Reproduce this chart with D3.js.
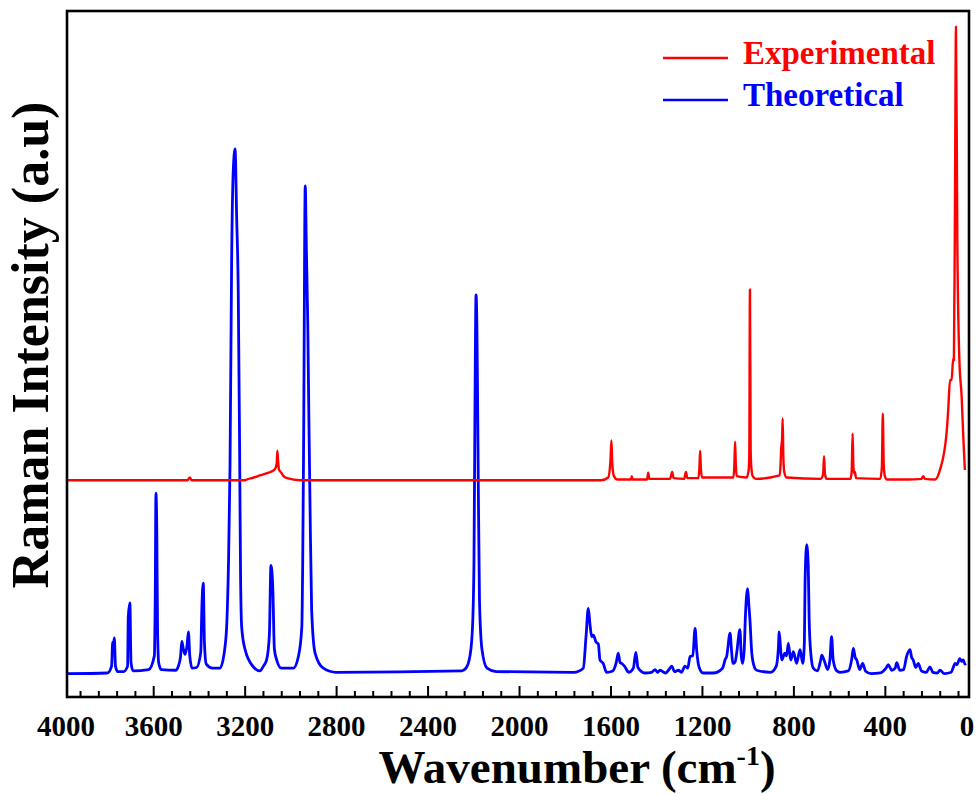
<!DOCTYPE html>
<html>
<head>
<meta charset="utf-8">
<script src="https://cdn.jsdelivr.net/npm/d3@7"></script>
<style>
  body { margin: 0; background: #fff; }
  svg text { font-family: "Liberation Serif", "Times New Roman", serif; font-weight: bold; }
</style>
</head>
<body>
<div id="chart"></div>
<script>
// Raman spectra, values (intensity in arbitrary units)
const seriesNames = ["Experimental", "Theoretical"];
const seriesColors = ["#ff0000", "#0000ff"];

const expWave = [3975, 3450, 3440, 3432, 3200, 3191, 3160, 3133, 3105, 3088, 3068, 3060, 3057, 3054, 3050, 3045, 3038, 3032, 3014, 2958,
  1640, 1610, 1600, 1596, 1592, 1585, 1570, 1510, 1507, 1503, 1440, 1435, 1430, 1340, 1330, 1324, 1278, 1270, 1264,
  1215, 1211, 1208, 1205, 1200, 1062, 1058, 1055, 1052, 1048, 1005, 996, 993, 990, 987, 984, 978, 965,
  860, 856, 854, 849, 847, 844, 840, 830, 680, 670, 666, 662, 655, 550, 545, 541, 538, 535, 531, 526,
  420, 413, 409, 405, 400, 390, 300, 240, 232, 225, 180, 159, 130, 123, 115, 108, 101, 98, 93, 89, 83, 74, 64, 57, 50];
const expInt = [31.6, 31.6, 32.0, 31.6, 31.6, 31.7, 32.0, 32.3, 32.6, 32.8, 33.2, 34.0, 35.9, 34.5, 33.2, 32.9, 32.6, 32.3, 31.9, 31.6,
  31.6, 32.0, 34.5, 37.4, 34.0, 32.2, 31.7, 31.7, 32.2, 31.7, 31.7, 32.7, 31.8, 31.8, 32.8, 31.9, 31.8, 32.8, 31.9,
  31.9, 33.5, 35.9, 33.5, 32.0, 32.0, 34.0, 37.2, 34.0, 32.2, 32.0, 33.0, 35.0, 59.4, 36.0, 33.5, 32.2, 31.8,
  32.3, 34.0, 35.8, 38.0, 40.6, 35.0, 32.8, 32.0, 31.8, 32.5, 35.1, 32.5, 31.8, 31.8, 33.0, 38.4, 34.0, 32.6, 32.8, 31.9,
  31.8, 33.5, 41.3, 34.0, 32.2, 31.7, 31.7, 31.8, 32.2, 31.8, 31.7, 33.1, 38.5, 41.8, 46.2, 46.2, 49.4, 49.1, 74.2, 97.7, 66.1, 49.1, 43.7, 37.9, 33.1];

const theoWave = [3975, 3800, 3782, 3777, 3774, 3770, 3765, 3755, 3730, 3712, 3709, 3702, 3697, 3688,
  3620, 3595, 3591, 3588, 3584, 3581, 3576, 3565, 3500, 3490, 3480, 3475, 3468, 3461, 3452, 3446, 3440, 3430,
  3410, 3392, 3387, 3381, 3376, 3368, 3340, 3308, 3286, 3278, 3271, 3264, 3257, 3250, 3242, 3235, 3228, 3222, 3218, 3213, 3198, 3162, 3133,
  3118, 3104, 3092, 3085, 3077, 3070, 3060, 3040, 2987, 2965, 2950, 2946, 2942, 2935, 2930, 2924, 2919, 2914, 2907, 2892, 2856, 2800,
  2250, 2232, 2214, 2203, 2197, 2193, 2188, 2184, 2179, 2173, 2162, 2140, 2100,
  1760, 1719, 1707, 1697, 1690, 1682, 1675, 1663, 1653, 1646, 1632, 1617, 1590, 1575, 1566, 1558, 1551, 1537, 1520, 1500, 1489, 1480,
  1450, 1420, 1405, 1395, 1383, 1360, 1340, 1332, 1320, 1303, 1290, 1274, 1262, 1252, 1240, 1230, 1223, 1212, 1195,
  1150, 1110, 1098, 1092, 1077, 1070, 1065, 1055, 1048, 1034, 1028, 1022, 1015, 1010, 1000, 995, 990, 982, 970, 961,
  900, 875, 866, 862, 856, 851, 837, 830, 822, 812, 800, 786, 771, 759, 752, 749, 742, 735, 731, 724, 713, 695,
  680, 676, 666, 650, 640, 633, 626, 610, 596, 560, 545, 538, 530, 523, 510, 497, 485, 460,
  420, 395, 385, 370, 355, 348, 335, 318, 305, 290, 283, 276, 265, 254, 240, 218, 203, 190, 170, 159, 140,
  110, 100, 93, 85, 72, 64, 57, 50, 45];
const theoInt = [3.4, 3.5, 4.5, 8.0, 7.5, 8.6, 4.5, 3.7, 3.7, 4.5, 11.7, 13.7, 5.0, 3.8,
  4.0, 6.0, 15.0, 29.7, 23.4, 10.0, 5.0, 4.0, 3.9, 4.5, 6.0, 8.1, 7.0, 6.2, 7.5, 9.5, 6.0, 4.2,
  4.3, 6.5, 13.2, 16.6, 8.0, 4.8, 4.2, 4.2, 7.3, 10.8, 19.0, 33.6, 63.5, 76.6, 79.9, 70.0, 59.1, 36.0, 18.0, 10.2, 6.9, 4.4, 3.8,
  4.5, 5.4, 9.0, 19.2, 16.0, 7.0, 5.4, 4.2, 4.2, 5.9, 10.2, 20.0, 37.5, 74.5, 65.2, 54.5, 40.4, 27.7, 12.7, 6.4, 4.2, 3.6,
  3.8, 4.2, 6.1, 10.5, 20.0, 40.4, 58.6, 53.5, 34.5, 14.1, 6.9, 4.2, 3.7,
  3.6, 4.2, 8.8, 12.9, 10.7, 8.8, 9.0, 8.0, 7.7, 5.4, 4.9, 3.6, 3.8, 5.0, 6.4, 5.0, 4.9, 4.4, 3.6, 4.2, 6.5, 4.3,
  3.5, 3.6, 4.0, 3.6, 3.9, 3.5, 4.2, 4.5, 3.7, 3.9, 3.6, 4.5, 4.2, 5.9, 6.0, 10.0, 6.8, 4.3, 3.5,
  3.5, 4.2, 5.5, 5.9, 9.3, 6.5, 4.9, 5.1, 6.4, 9.8, 6.0, 4.9, 7.0, 11.7, 15.8, 13.5, 11.2, 6.4, 4.3, 3.9,
  3.6, 4.5, 7.0, 9.5, 7.0, 5.4, 6.4, 6.0, 7.8, 5.4, 6.6, 4.9, 6.9, 4.9, 8.0, 16.6, 22.2, 19.0, 11.2, 6.4, 4.2, 3.8,
  5.5, 6.1, 5.4, 4.0, 5.5, 8.8, 5.4, 3.8, 3.6, 3.8, 5.5, 7.1, 5.8, 5.4, 4.0, 4.9, 3.8, 3.4,
  3.5, 4.2, 4.7, 3.9, 4.2, 5.0, 3.9, 4.0, 5.9, 6.9, 5.8, 5.4, 4.3, 4.9, 3.8, 3.6, 4.4, 3.6, 3.5, 3.9, 3.4,
  3.6, 4.4, 4.9, 4.7, 5.6, 5.2, 5.4, 4.8, 4.9];

const majorTicks = [4000, 3600, 3200, 2800, 2400, 2000, 1600, 1200, 800, 400, 0];

const W = 976, H = 794;
const mLeft = 67, mRight = 969, mTop = 11, mBottom = 697;

const svg = d3.select("#chart").append("svg")
  .attr("width", W).attr("height", H);

const x = d3.scaleLinear().domain([3977, 32]).range([mLeft, mRight]);
const y = d3.scaleLinear().domain([0, 100]).range([mBottom, mTop]);

svg.append("clipPath").attr("id", "plot")
  .append("rect").attr("x", mLeft).attr("y", mTop).attr("width", mRight - mLeft).attr("height", mBottom - mTop);

// wavenumber runs right-to-left, so screen x still grows along the arrays
const line = d3.line().x(d => x(d[0])).y(d => y(d[1])).curve(d3.curveMonotoneX);

const theo = theoWave.map((w, i) => [w, theoInt[i]]);
const exp = expWave.map((w, i) => [w, expInt[i]]);

// blue under red
svg.append("path").datum(theo)
  .attr("clip-path", "url(#plot)")
  .attr("fill", "none").attr("stroke", seriesColors[1]).attr("stroke-width", 2.8)
  .attr("stroke-linejoin", "round")
  .attr("d", line);

svg.append("path").datum(exp)
  .attr("clip-path", "url(#plot)")
  .attr("fill", "none").attr("stroke", seriesColors[0]).attr("stroke-width", 2.4)
  .attr("stroke-linejoin", "round")
  .attr("d", line);

// minor ticks every 80
const minorTicks = d3.range(80, 4000, 80).filter(v => v % 400 !== 0 && v > 32 && v < 3977);
svg.append("g")
  .attr("transform", "translate(0," + mBottom + ")")
  .call(d3.axisBottom(x).tickValues(minorTicks).tickSize(-6).tickFormat(""))
  .call(g => g.select(".domain").remove())
  .call(g => g.selectAll("line").attr("stroke", "#000").attr("stroke-width", 2));

// major ticks + labels
const gx = svg.append("g")
  .attr("transform", "translate(0," + mBottom + ")")
  .call(d3.axisBottom(x).tickValues(majorTicks).tickSize(-11).tickPadding(18).tickFormat(d3.format("d")));
gx.select(".domain").remove();
gx.selectAll("line").attr("stroke", "#000").attr("stroke-width", 2);
gx.selectAll("text").attr("fill", "#000").style("font-size", "29px");
// the end labels sit just inside the frame
gx.selectAll(".tick").each(function(d) {
  const px = x(d);
  if (px < mLeft || px > mRight) {
    const cx = Math.max(mLeft - 1, Math.min(mRight - 2, px));
    d3.select(this).attr("transform", "translate(" + cx + ",0)").select("line").remove();
  }
});

// frame
svg.append("rect")
  .attr("x", mLeft).attr("y", mTop).attr("width", mRight - mLeft).attr("height", mBottom - mTop)
  .attr("fill", "none").attr("stroke", "#000").attr("stroke-width", 2.6);

// axis titles
const xt = svg.append("text")
  .attr("x", 577).attr("y", 783)
  .attr("text-anchor", "middle")
  .style("font-size", "47px");
xt.append("tspan").text("Wavenumber (cm");
xt.append("tspan").attr("dy", -18).style("font-size", "28px").text("-1");
xt.append("tspan").attr("dy", 18).text(")");

svg.append("text")
  .attr("transform", "translate(48,345) rotate(-90)")
  .attr("text-anchor", "middle")
  .style("font-size", "52px")
  .text("Raman Intensity (a.u)");

// legend
const legend = svg.append("g");
seriesNames.forEach((name, i) => {
  const ly = 58 + i * 42;
  legend.append("line")
    .attr("x1", 663).attr("x2", 728).attr("y1", ly).attr("y2", ly)
    .attr("stroke", seriesColors[i]).attr("stroke-width", 2.4);
  legend.append("text")
    .attr("x", 743).attr("y", ly + 6)
    .attr("fill", seriesColors[i])
    .style("font-size", "33px")
    .text(name);
});
</script>
</body>
</html>
